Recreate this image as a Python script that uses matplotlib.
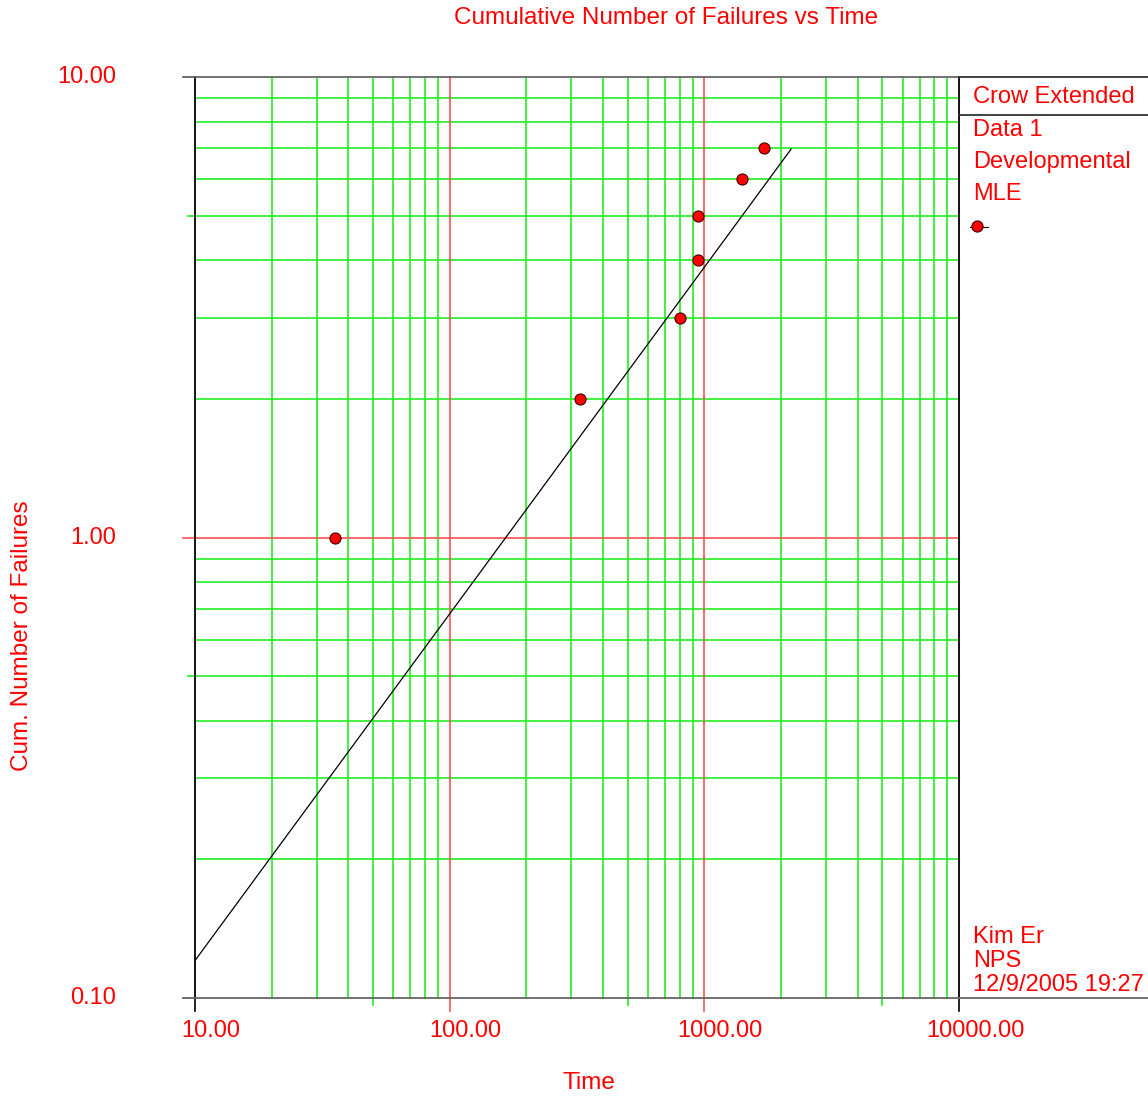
import matplotlib
matplotlib.use("Agg")
import matplotlib.pyplot as plt
import matplotlib.transforms as mtransforms

plt.rcParams["font.family"] = ["Liberation Sans", "DejaVu Sans"]

# failure data
fail_time = [35.4, 326.0, 805.0, 942.0, 942.0, 1406.0, 1708.0]
fail_count = [1, 2, 3, 4, 5, 6, 7]

# fitted Crow-AMSAA line (straight on log-log paper)
fit_time = [10.0, 2190.0]
fit_count = [0.1206, 6.97]

x_decades = [10, 100, 1000, 10000]
y_decades = [0.1, 1, 10]
x_ticklabels = ["10.00", "100.00", "1000.00", "10000.00"]
y_ticklabels = ["0.10", "1.00", "10.00"]
legend_lines = ["Data 1", "Developmental", "MLE"]
footer_lines = ["Kim Er", "NPS", "12/9/2005 19:27"]

RED = "#ff0000"
GRID_GREEN = "#22ee22"
MAJOR_RED = "#ff5050"
FS = 17
W, H = 1148, 1097

fig = plt.figure(figsize=(W / 100, H / 100), dpi=100)
left, right, top, bottom = 195, 959, 77, 998
ax = fig.add_axes([left / W, (H - bottom) / H, (right - left) / W, (bottom - top) / H])
ax.set_xscale("log")
ax.set_yscale("log")
ax.set_xlim(x_decades[0], x_decades[-1])
ax.set_ylim(y_decades[0], y_decades[-1])
ax.set_xticks([])
ax.set_yticks([])
ax.minorticks_off()
ax.tick_params(which="both", length=0, labelbottom=False, labelleft=False)

tick_x = 13 / (bottom - top)
tick_y = 12 / (right - left)

# minor grid lines with small ticks at the 5s
for d in x_decades[:-1]:
    for k in range(2, 10):
        ext = 7 / (bottom - top) if k == 5 else 0
        ax.axvline(d * k, ymin=-ext, ymax=1, color=GRID_GREEN, lw=1.2,
                   clip_on=False, zorder=1)
for d in y_decades[:-1]:
    for k in range(2, 10):
        ext = 7 / (right - left) if k == 5 else 0
        ax.axhline(d * k, xmin=-ext, xmax=1, color=GRID_GREEN, lw=1.2,
                   clip_on=False, zorder=1)

# decade lines
for v in x_decades:
    inner = v not in (x_decades[0], x_decades[-1])
    ax.axvline(v, ymin=-tick_x, ymax=1 if inner else 0,
               color=MAJOR_RED if inner else "black", lw=1.2,
               clip_on=False, zorder=2)
for v in y_decades:
    inner = v not in (y_decades[0], y_decades[-1])
    ax.axhline(v, xmin=-tick_y, xmax=1 if inner else 0,
               color=MAJOR_RED if inner else "#555555", lw=1.2,
               clip_on=False, zorder=2)

for side, col in (("left", "black"), ("right", "black"),
                  ("top", "#666666"), ("bottom", "#666666")):
    ax.spines[side].set_color(col)
    ax.spines[side].set_linewidth(1.3)

ax.plot(fit_time, fit_count, color="black", lw=0.9, zorder=3)
ax.plot(fail_time, fail_count, "o", ms=8, mfc="red", mec="#400000",
        mew=0.8, zorder=4)

# tick labels
offset = mtransforms.ScaledTranslation(0.16, 0, fig.dpi_scale_trans)
for v, lab in zip(x_decades, x_ticklabels):
    ax.text(v, -0.036, lab, transform=ax.get_xaxis_transform() + offset,
            ha="center", va="center", color=RED, fontsize=FS)
ytrans = mtransforms.blended_transform_factory(fig.transFigure, ax.transData)
for v, lab in zip(y_decades, y_ticklabels):
    ax.text(116 / W, v, lab, transform=ytrans,
            ha="right", va="center", color=RED, fontsize=FS)

fig.text(666 / W, 1 - 18 / H, "Cumulative Number of Failures vs Time",
         ha="center", va="center", color=RED, fontsize=17.5)
fig.text(589 / W, 1 - 1083 / H, "Time", ha="center", va="center",
         color=RED, fontsize=17.5)
fig.text(22 / W, 1 - 636 / H, "Cum. Number of Failures", ha="center",
         va="center", rotation=90, color=RED, fontsize=17.5)

# legend panel on the right
fig.add_artist(plt.Line2D([right / W, 1], [1 - top / H] * 2, color="#333333", lw=1.3))
fig.add_artist(plt.Line2D([right / W, 1], [1 - 115 / H] * 2, color="#333333", lw=1.3))
fig.add_artist(plt.Line2D([right / W, 1], [1 - bottom / H] * 2, color="#666666", lw=1.3))
fig.text(973 / W, 1 - 97 / H, "Crow Extended", ha="left", va="center",
         color=RED, fontsize=FS)
for i, s in enumerate(legend_lines):
    fig.text(973 / W, 1 - (130 + 32 * i) / H, s, ha="left", va="center",
             color=RED, fontsize=FS)
fig.add_artist(plt.Line2D([970 / W, 988 / W], [1 - 227 / H] * 2, color="black", lw=0.8))
fig.add_artist(plt.Line2D([977 / W], [1 - 226 / H], marker="o", ms=8,
                          mfc="red", mec="#400000", mew=0.8))
for i, s in enumerate(footer_lines):
    fig.text(973 / W, 1 - (937 + 24 * i) / H, s, ha="left", va="center",
             color=RED, fontsize=FS)

fig.savefig("out.png", dpi=100, facecolor="white")
